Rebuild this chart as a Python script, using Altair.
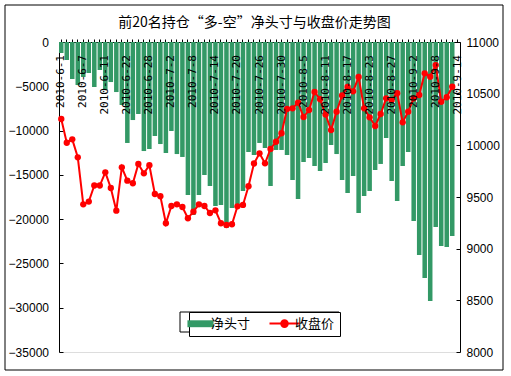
import altair as alt
import pandas as pd

dates = [
    "2010-6-1", "2010-6-2", "2010-6-3", "2010-6-4", "2010-6-7", "2010-6-8", "2010-6-9", "2010-6-10",
    "2010-6-11", "2010-6-17", "2010-6-18", "2010-6-21", "2010-6-22", "2010-6-23", "2010-6-24",
    "2010-6-25", "2010-6-28", "2010-6-29", "2010-6-30",
    "2010-7-1", "2010-7-2", "2010-7-5", "2010-7-6", "2010-7-7", "2010-7-8", "2010-7-9", "2010-7-12",
    "2010-7-13", "2010-7-14", "2010-7-15", "2010-7-16", "2010-7-19", "2010-7-20", "2010-7-21",
    "2010-7-22", "2010-7-23", "2010-7-26", "2010-7-27", "2010-7-28", "2010-7-29", "2010-7-30",
    "2010-8-2", "2010-8-3", "2010-8-4", "2010-8-5", "2010-8-6", "2010-8-9", "2010-8-10", "2010-8-11",
    "2010-8-12", "2010-8-13", "2010-8-16", "2010-8-17", "2010-8-18", "2010-8-19", "2010-8-20",
    "2010-8-23", "2010-8-24", "2010-8-25", "2010-8-26", "2010-8-27", "2010-8-30", "2010-8-31",
    "2010-9-1", "2010-9-2", "2010-9-3", "2010-9-6", "2010-9-7", "2010-9-8", "2010-9-9", "2010-9-10",
    "2010-9-13", "2010-9-14",
]

net = [
    -1240, -2030, -4180, -4860, -3950, -3500, -5080, -3160, -5420, -4520, -5650, -7110,
    -11400, -8810, -8130, -12310, -12080, -10610, -11520, -12530, -10050, -12650, -12980, -17270,
    -19530, -17270, -15020, -16260, -18520, -18400, -21000, -18740, -18400, -16820, -12420, -12760,
    -11400, -11970, -16260, -12190, -12190, -12760, -15580, -17730, -13550, -13100, -14000, -14560,
    -13660, -11630, -12650, -15580, -17050, -15130, -19310, -17390, -16820, -14450, -13770, -10840,
    -15690, -17950, -14000, -12420, -20210, -24050, -26640, -29240, -20890, -23030, -23150, -21900,
    None,
]

close = [
    10255, 10025, 10058, 9884, 9429, 9456, 9611, 9611, 9739, 9587, 9368, 9787,
    9658, 9633, 9819, 9729, 9807, 9529, 9507, 9246, 9413, 9429, 9403, 9294,
    9358, 9429, 9413, 9345, 9371, 9246, 9229, 9236, 9410, 9423, 9604, 9824,
    9923, 9826, 9965, 10035, 10117, 10352, 10358, 10413, 10274, 10342, 10516, 10446,
    10298, 10148, 10326, 10482, 10565, 10523, 10661, 10358, 10271, 10187, 10303, 10455,
    10439, 10504, 10223, 10326, 10455, 10487, 10697, 10664, 10777, 10422, 10465, 10567,
    None,
]

date_labels = dates[::4]
series_names = ["净头寸", "收盘价"]
series_colors = ["#339966", "#FF0000"]
title_text = "前20名持仓“多-空”净头寸与收盘价走势图"

df = pd.DataFrame({"date": dates, "net": net, "close": close})
lab_df = pd.DataFrame({"date": date_labels})

x_enc = alt.X(
    "date:N",
    sort=dates,
    scale=alt.Scale(paddingInner=0.18, paddingOuter=0),
    axis=alt.Axis(orient="top", labels=False, title=None, tickSize=3,
                  domainColor="black", tickColor="black", grid=False),
)

is_net = "datum.value === '净头寸'"
color_enc = alt.Color(
    "series:N",
    scale=alt.Scale(domain=series_names, range=series_colors),
    legend=alt.Legend(
        title=None, orient="none", legendX=130, legendY=270, direction="horizontal",
        fillColor="white", strokeColor="black", padding=5,
        labelFont="Noto Sans CJK SC", labelFontSize=13, labelColor="black",
        symbolSize=900, labelOffset=4, columnPadding=14, symbolOpacity=1,
        symbolType=alt.ExprRef(expr=is_net + " ? 'M-0.87,-0.23H0.87V0.23H-0.87Z' : 'M-1,0H1M0.22,0A0.22,0.22,0,1,1,-0.22,0A0.22,0.22,0,1,1,0.22,0'"),
        symbolFillColor=alt.ExprRef(expr=is_net + " ? '#339966' : '#FF0000'"),
        symbolStrokeColor=alt.ExprRef(expr=is_net + " ? '#339966' : '#FF0000'"),
        symbolStrokeWidth=alt.ExprRef(expr=is_net + " ? 0 : 2"),
    ),
)

bars = alt.Chart(df).transform_calculate(series="'净头寸'").mark_bar().encode(
    x=x_enc,
    y=alt.Y("net:Q", scale=alt.Scale(domain=[-35000, 0], nice=False),
            axis=alt.Axis(orient="left", values=list(range(-35000, 1, 5000)), title=None,
                          format="d", grid=False, domainColor="black", tickColor="black",
                          tickSize=alt.ExprRef(expr="-4"),
                          labelPadding=14.5, labelFont="Liberation Sans", labelFontSize=12,
                          labelColor="black")),
    color=color_enc,
)

line = alt.Chart(df).transform_calculate(series="'收盘价'").mark_line(
    strokeWidth=2,
    point=alt.OverlayMarkDef(filled=True, size=40, opacity=1),
).encode(
    x=x_enc,
    y=alt.Y("close:Q", scale=alt.Scale(domain=[8000, 11000], nice=False),
            axis=alt.Axis(orient="right", values=list(range(8000, 11001, 500)), title=None,
                          format="d", grid=False, domainColor="black", tickColor="black",
                          tickSize=alt.ExprRef(expr="-4"),
                          labelPadding=10, labelFont="Liberation Sans", labelFontSize=12,
                          labelColor="black")),
    color=color_enc,
)

labels = alt.Chart(lab_df).mark_text(
    angle=270, align="right", baseline="middle",
    font="DejaVu Sans Mono", fontSize=11, color="black",
).encode(
    x=x_enc,
    y=alt.value(13),
    text="date:N",
)

deco = pd.DataFrame({"a": [0]})
frame = alt.Chart(deco).mark_rect(
    fillOpacity=0, stroke="black", strokeWidth=1,
).encode(
    x=alt.value(-54), x2=alt.value(444), y=alt.value(-37), y2=alt.value(328),
)

legend_box = alt.Chart(deco).mark_rect(
    fill="white", stroke="black", strokeWidth=1,
).encode(
    x=alt.value(121), x2=alt.value(280), y=alt.value(270), y2=alt.value(290),
)

chart = alt.layer(frame, bars, line, labels, legend_box).resolve_scale(y="independent").properties(
    width=401,
    height=310,
    title=alt.TitleParams(title_text, font="Noto Sans CJK SC", fontSize=14,
                          fontWeight="normal", anchor="middle",
                          offset=alt.ExprRef(expr="-25"), dx=-5, color="black"),
    autosize=alt.AutoSizeParams(type="none"),
    padding={"left": 59, "top": 42, "right": 51, "bottom": 24},
).configure_view(
    fill="#C0C0C0", stroke="#808080", strokeWidth=1,
).configure_legend(
    fillColor="white", strokeColor="black",
).configure(background="white")

chart.save("out.html", embed_options={"renderer": "svg", "actions": False})
